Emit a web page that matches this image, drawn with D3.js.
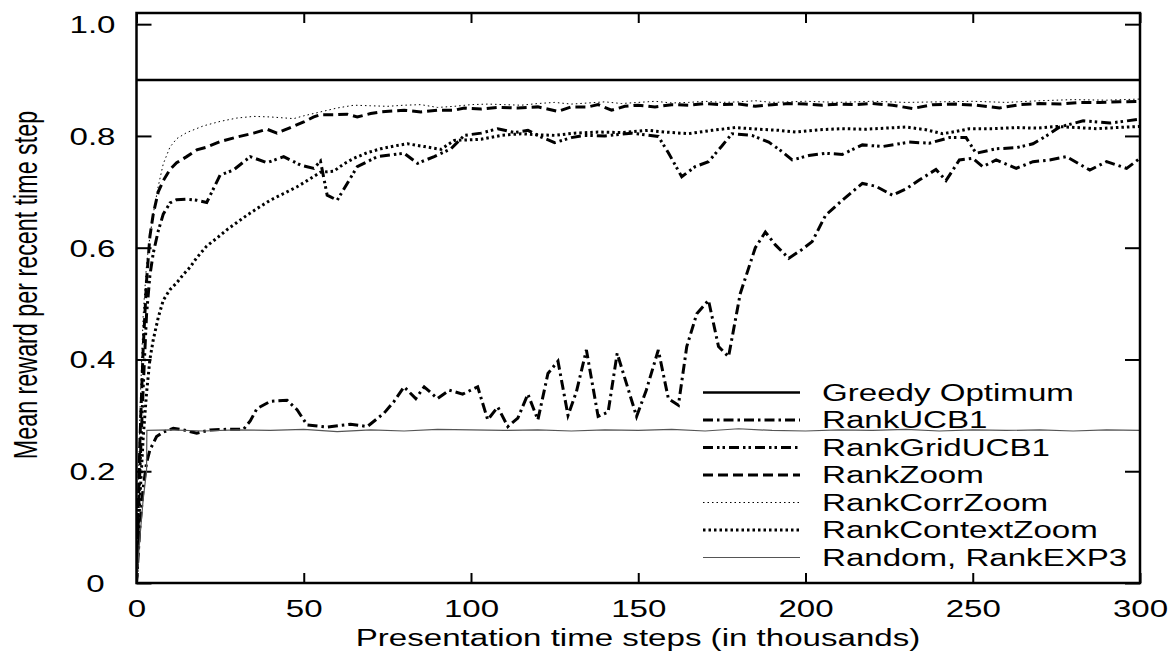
<!DOCTYPE html>
<html>
<head>
<meta charset="utf-8">
<script src="https://cdn.jsdelivr.net/npm/d3@7"></script>
<style>
  html, body { margin: 0; padding: 0; background: #fff; }
  svg { display: block; }
  text { font-family: "Liberation Sans", Arial, Helvetica, sans-serif; fill: #000; }
</style>
</head>
<body>
<svg id="chart" width="1170" height="661"></svg>
<script>
// ---------------- data ----------------
const xTicks = [0, 50, 100, 150, 200, 250, 300];
const yTicks = [0, 0.2, 0.4, 0.6, 0.8, 1.0];
const yTickLabels = ["0", "0.2", "0.4", "0.6", "0.8", "1.0"];
const xTitle = "Presentation time steps (in thousands)";
const yTitle = "Mean reward per recent time step";
const seriesNames = ["Greedy Optimum", "RankUCB1", "RankGridUCB1", "RankZoom",
                     "RankCorrZoom", "RankContextZoom", "Random, RankEXP3"];

const greedyOptimum = [[0, 0.9], [300, 0.9]];

const rankUCB1 = [[0,0],[1,0.1],[2,0.17],[3,0.215],[4,0.238],[6,0.262],[8,0.27],[11,0.277],[14,0.274],
  [18,0.268],[22,0.274],[27,0.275],[32,0.275],[34,0.29],[36,0.312],[40,0.325],[45,0.327],[48,0.31],
  [51,0.283],[57,0.279],[61,0.282],[64,0.284],[69,0.28],[74,0.304],[77,0.325],[80,0.351],[83.5,0.33],
  [86,0.351],[90,0.33],[93.5,0.345],[97.5,0.338],[102,0.351],[105,0.292],[108,0.315],[111,0.28],
  [114,0.295],[117,0.338],[120,0.292],[123,0.375],[126,0.397],[129,0.3],[131.5,0.342],[134.5,0.417],
  [138,0.298],[141,0.306],[143.7,0.411],[149.5,0.298],[152.4,0.345],[156,0.417],[159,0.33],[162,0.318],
  [164.5,0.423],[167.5,0.482],[171,0.506],[174,0.423],[177,0.405],[180.5,0.518],[185,0.6],[188,0.628],
  [191,0.605],[195,0.581],[199,0.597],[202,0.611],[206,0.658],[211,0.685],[217,0.715],[221,0.71],
  [226,0.694],[230,0.705],[234,0.721],[239,0.74],[242,0.72],[246,0.757],[250,0.76],[253,0.745],
  [257,0.757],[263,0.742],[268,0.754],[273,0.757],[278,0.763],[285,0.739],[290,0.754],[296,0.742],[300,0.76]];

const rankGridUCB1 = [[0,0],[1,0.2],[2,0.35],[3,0.48],[4,0.55],[5,0.59],[6.5,0.63],[8,0.66],[10,0.68],
  [12,0.686],[15,0.687],[18,0.685],[21,0.681],[25,0.73],[29,0.739],[34,0.763],[39,0.752],[44,0.763],
  [49,0.748],[53,0.742],[55,0.755],[57,0.694],[60,0.685],[63,0.715],[66,0.745],[72,0.763],[80,0.769],
  [84,0.751],[89,0.763],[94,0.777],[98,0.801],[103,0.805],[108,0.813],[113,0.806],[117,0.81],[121,0.798],
  [125,0.788],[130,0.797],[134,0.801],[140,0.8],[148,0.805],[156,0.799],[159,0.77],[163,0.727],
  [167,0.745],[171,0.754],[175,0.782],[178,0.804],[184,0.801],[189,0.789],[193,0.772],[196,0.757],
  [201,0.765],[206,0.769],[211,0.767],[217,0.784],[223,0.781],[231,0.789],[237,0.787],[243,0.797],
  [248,0.797],[251,0.769],[257,0.777],[263,0.779],[268,0.786],[272,0.8],[276,0.816],[283,0.827],
  [291,0.823],[300,0.83]];

const rankZoom = [[0,0],[1,0.25],[2,0.42],[3,0.54],[4,0.62],[5,0.66],[6.5,0.7],[8,0.72],[10,0.74],
  [12,0.752],[15,0.763],[18,0.775],[21,0.78],[25,0.79],[30,0.798],[35,0.805],[39,0.812],[42,0.805],
  [46,0.815],[50,0.825],[53,0.834],[55,0.838],[59,0.838],[63,0.839],[66,0.834],[70,0.84],[73,0.843],
  [80,0.846],[85,0.843],[90,0.846],[95,0.846],[98,0.85],[103,0.848],[108,0.851],[114,0.85],[120,0.852],
  [126,0.844],[130,0.852],[135,0.852],[138,0.856],[142,0.846],[146,0.853],[150,0.855],[155,0.852],
  [160,0.856],[165,0.855],[170,0.858],[175,0.856],[180,0.857],[185,0.853],[190,0.856],[195,0.858],
  [200,0.857],[205,0.855],[210,0.857],[215,0.856],[220,0.858],[226,0.855],[232,0.849],[238,0.856],
  [245,0.857],[251,0.855],[258,0.85],[264,0.856],[270,0.858],[276,0.857],[282,0.86],[288,0.86],
  [294,0.861],[300,0.862]];

const rankCorrZoom = [[0,0],[1,0.3],[2,0.48],[3,0.57],[4,0.62],[5,0.66],[6.5,0.71],[8,0.75],[10,0.78],
  [12,0.795],[15,0.806],[20,0.818],[25,0.826],[30,0.832],[35,0.835],[40,0.834],[47,0.831],[50,0.836],
  [55,0.843],[60,0.85],[65,0.855],[70,0.854],[75,0.853],[80,0.855],[85,0.856],[90,0.851],[95,0.853],
  [100,0.856],[105,0.857],[110,0.856],[115,0.855],[120,0.858],[125,0.86],[130,0.857],[135,0.859],
  [140,0.861],[145,0.858],[150,0.86],[155,0.862],[160,0.859],[165,0.86],[170,0.862],[175,0.86],
  [180,0.861],[185,0.863],[190,0.86],[195,0.861],[200,0.862],[210,0.86],[220,0.862],[230,0.86],
  [240,0.861],[250,0.862],[260,0.86],[270,0.863],[280,0.865],[290,0.864],[300,0.866]];

const rankContextZoom = [[0,0],[1,0.15],[2,0.26],[3,0.34],[4,0.4],[5,0.435],[6.5,0.475],[8,0.506],
  [10,0.525],[12,0.537],[14,0.552],[16,0.565],[18,0.582],[21,0.603],[24,0.617],[27,0.632],[30,0.645],
  [33,0.658],[36,0.67],[40,0.685],[44,0.697],[48,0.709],[51,0.72],[55,0.735],[59,0.737],[62,0.75],
  [65,0.76],[69,0.77],[73,0.777],[77,0.782],[81,0.786],[86,0.781],[91,0.776],[95,0.792],[99,0.793],
  [103,0.794],[109,0.801],[115,0.804],[120,0.802],[125,0.801],[131,0.805],[138,0.807],[145,0.806],
  [153,0.81],[158,0.807],[165,0.804],[172,0.81],[179,0.815],[186,0.812],[192,0.81],[197,0.807],
  [204,0.811],[211,0.813],[218,0.812],[224,0.814],[230,0.816],[236,0.811],[241,0.804],[245,0.808],
  [249,0.813],[256,0.813],[263,0.815],[269,0.814],[275,0.817],[281,0.815],[287,0.813],[293,0.815],
  [300,0.817]];

const randomExp3 = [[0,0],[1,0.08],[2,0.15],[3,0.2],[3.1,0.273],[10,0.274],[20,0.272],[30,0.274],
  [40,0.273],[50,0.275],[60,0.271],[70,0.274],[80,0.272],[90,0.275],[100,0.274],[110,0.273],[120,0.274],
  [130,0.272],[140,0.274],[150,0.273],[160,0.275],[170,0.272],[180,0.276],[190,0.273],[200,0.272],
  [210,0.274],[220,0.273],[230,0.275],[240,0.272],[250,0.274],[260,0.273],[270,0.274],[280,0.272],
  [290,0.274],[300,0.273]];

const seriesData = [greedyOptimum, rankUCB1, rankGridUCB1, rankZoom, rankCorrZoom, rankContextZoom, randomExp3];

// ---------------- styles / layout ----------------
const styles = [
  { w: 2.5, dash: null,                 color: "#000" },
  { w: 3,   dash: "10,4,2.5,4",         color: "#000" },
  { w: 3,   dash: "10,4,2.5,3,2.5,4",   color: "#000" },
  { w: 3,   dash: "10,5",               color: "#000" },
  { w: 1,   dash: "1.5,3",              color: "#000" },
  { w: 3,   dash: "2.5,3",              color: "#000" },
  { w: 1.2, dash: null,                 color: "#555" }
];
const SX = 1.42;       // horizontal stretch of the original rendering
const FS = 23.3;       // font size
const L = 136.5, R = 1140, T = 13, B = 583;

const svg = d3.select("#chart");
const x = d3.scaleLinear().domain([0, 300]).range([L, R]);
const y = d3.scaleLinear().domain([0, 1.02]).range([B, T]);

svg.append("defs").append("clipPath").attr("id", "clip")
  .append("rect").attr("x", L).attr("y", T).attr("width", R - L).attr("height", B - T);

// axes (inward ticks, mirrored)
const gx = svg.append("g").attr("transform", `translate(0,${B})`)
  .call(d3.axisBottom(x).tickValues(xTicks).tickSizeInner(-10).tickSizeOuter(0).tickPadding(0));
const gxTop = svg.append("g").attr("transform", `translate(0,${T})`)
  .call(d3.axisTop(x).tickValues(xTicks).tickSizeInner(-10).tickSizeOuter(0).tickFormat(""));
const gy = svg.append("g").attr("transform", `translate(${L},0)`)
  .call(d3.axisLeft(y).tickValues(yTicks).tickSizeInner(-15).tickSizeOuter(0)
    .tickFormat((d, i) => yTickLabels[i]));
const gyR = svg.append("g").attr("transform", `translate(${R},0)`)
  .call(d3.axisRight(y).tickValues(yTicks).tickSizeInner(-15).tickSizeOuter(0).tickFormat(""));

[gx, gxTop, gy, gyR].forEach(g => {
  g.select(".domain").remove();
  g.selectAll(".tick line").attr("stroke", "#000").attr("stroke-width", 2);
});

gx.selectAll(".tick text")
  .attr("x", null).attr("y", null).attr("dy", null)
  .attr("text-anchor", "middle")
  .attr("font-size", FS)
  .attr("transform", `translate(0,34) scale(${SX},1)`);

gy.selectAll(".tick text")
  .attr("x", null).attr("y", null).attr("dy", null)
  .attr("font-size", FS)
  .attr("text-anchor", (d) => d === 0 ? "middle" : "end")
  .attr("transform", (d) => d === 0 ? `translate(-41,8.3) scale(${SX},1)` : `translate(-21,8.3) scale(${SX},1)`);

// axis titles
svg.append("text")
  .attr("text-anchor", "middle").attr("font-size", FS)
  .attr("transform", `translate(638,646) scale(${SX},1)`)
  .text(xTitle);
svg.append("text")
  .attr("text-anchor", "middle").attr("font-size", FS)
  .attr("transform", `translate(37,285) scale(${SX},1) rotate(-90)`)
  .text(yTitle);

// series
const line = d3.line().x(d => x(d[0])).y(d => y(d[1]));
const plot = svg.append("g").attr("clip-path", "url(#clip)");
seriesData.forEach((data, i) => {
  const s = styles[i];
  plot.append("path")
    .attr("d", line(data))
    .attr("fill", "none")
    .attr("stroke", s.color)
    .attr("stroke-width", s.w)
    .attr("stroke-dasharray", s.dash)
    .attr("stroke-linejoin", "miter")
    .attr("stroke-linecap", "butt");
});

// legend
const legY = d3.scaleLinear().domain([0, 6]).range([392.5, 557.5]);
const leg = svg.append("g");
seriesNames.forEach((name, i) => {
  const s = styles[i];
  const yy = legY(i);
  leg.append("line")
    .attr("x1", 703).attr("x2", 800).attr("y1", yy).attr("y2", yy)
    .attr("stroke", s.color).attr("stroke-width", s.w)
    .attr("stroke-dasharray", s.dash);
  leg.append("text")
    .attr("font-size", FS)
    .attr("transform", `translate(822,${yy + 8.3}) scale(${SX},1)`)
    .text(name);
});

// frame
svg.append("rect")
  .attr("x", L).attr("y", T).attr("width", R - L).attr("height", B - T)
  .attr("fill", "none").attr("stroke", "#000").attr("stroke-width", 2.5);
</script>
</body>
</html>
